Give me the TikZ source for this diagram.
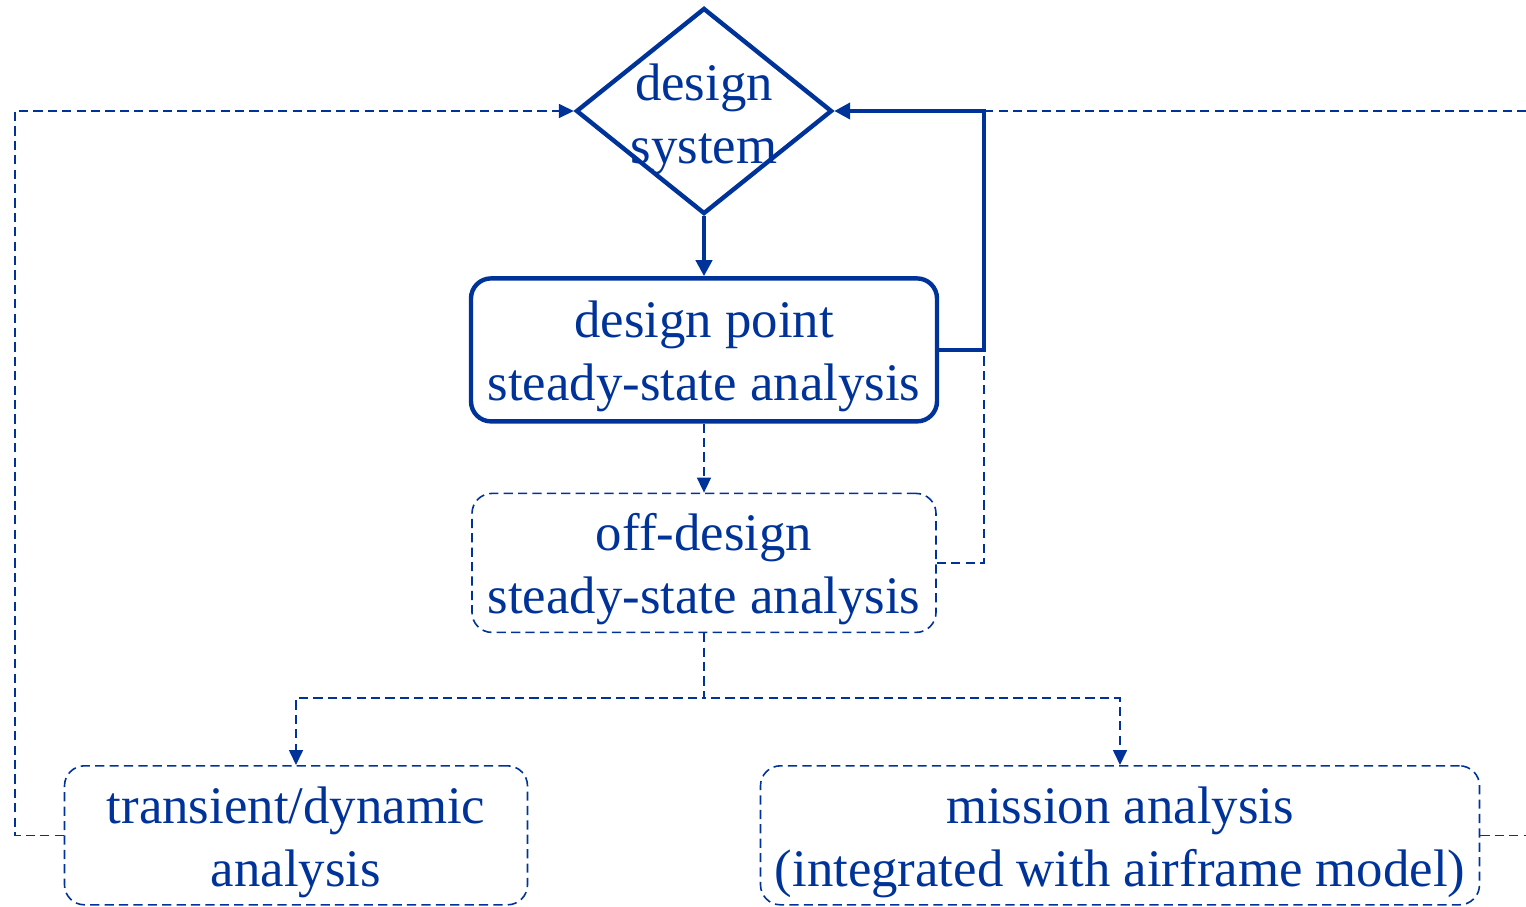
\documentclass[tikz,border=0pt]{standalone}
\usepackage{fontspec}
\setmainfont{Liberation Serif}
\usetikzlibrary{arrows.meta,positioning,shapes.geometric}
\definecolor{DBlue}{HTML}{003399}

\begin{document}
\begin{tikzpicture}[x=0.5pt,y=-0.5pt,
  txt/.style={text=DBlue,align=center,font=\fontsize{26.4pt}{31.5pt}\selectfont},
  dec/.style={diamond,draw=DBlue,line width=2.2pt,minimum width=128pt,
    minimum height=103pt,inner sep=0pt},
  n/.style={txt,draw=DBlue,rounded corners=10pt,line width=2.2pt,
    minimum width=233pt,minimum height=71.5pt,inner sep=2pt,
    text height=56pt,text depth=5pt},
  nd/.style={txt,draw=DBlue,rounded corners=10pt,line width=0.8pt,
    dash pattern=on 4.6pt off 2.6pt,minimum height=69.5pt,inner sep=2pt,
    text height=56pt,text depth=5pt},
  a/.style={-{Triangle[length=8pt,width=8pt]},line width=2.2pt,color=DBlue},
  dl/.style={line width=0.8pt,dash pattern=on 4.6pt off 2.6pt,color=DBlue},
  da/.style={dl,-{Triangle[length=7.5pt,width=7pt]}}
]
  \useasboundingbox (0,0) rectangle (1526,906);
  \clip (0,0) rectangle (1526,906);
  \node[dec,label={[txt,yshift=-4pt]center:design\\system}] (dsys) at (704,111) {};
  \node[n,below=30pt of dsys] (dp) {design point\\steady-state analysis};
  \node[nd,minimum width=232pt,below=34.5pt of dp] (od) {off-design\\steady-state analysis};
  \node[nd,minimum width=231.5pt,anchor=north] (trans) at (296,765) {transient/dynamic\\analysis};
  \node[nd,minimum width=359.5pt,anchor=north] (miss) at (1120,765)
    {mission analysis\\(integrated with airframe model)};
  \coordinate[right=22.5pt of dp.east] (fb);
  \draw[a] (dsys) -- (dp);
  \draw[a] (dp.east) -- (fb) |- (dsys.east);
  \draw[da] (dp) -- (od);
  \draw[dl] (od.east) -| (fb);
  \foreach \t in {trans,miss}
    {\draw[da] (od.south) -- ++(0,65) -| (\t.north);}
  \draw[da] (trans.west) -- ++(-49,0) |- (dsys.west);
  \draw[dl] (miss.east) -- ++(100,0) |- (fb |- dsys.east);
\end{tikzpicture}
\end{document}
